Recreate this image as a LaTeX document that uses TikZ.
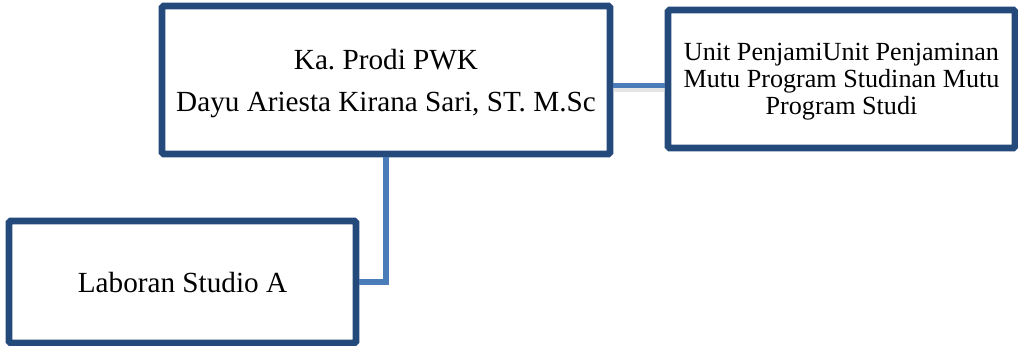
\documentclass[tikz,border=0pt]{standalone}
\usepackage{fontspec}
\setmainfont{Liberation Serif}
\usepackage{tikz}
\usetikzlibrary{calc,positioning}
\definecolor{cBox}{RGB}{36,74,124}
\definecolor{cLink}{RGB}{74,124,186}
\frenchspacing

\begin{document}
\begin{tikzpicture}[x=0.75pt,y=-0.75pt,
    unitbox/.style={draw=cBox,line width=4.9pt,rounded corners=1.2pt,fill=white,align=center,inner sep=0pt,text depth=0pt},
    link/.style={cLink,line width=3.8pt},
    linkshadow/.style={black!20,line width=4pt,opacity=0.5}]
  \useasboundingbox (0,0) rectangle (1018,346);
  % boxes
  \node[unitbox,minimum width=336pt,minimum height=111pt,font=\fontsize{21.9}{31.5}\selectfont]
    (kaprodi) at (386,80) {Ka.\ Prodi PWK\\Dayu Ariesta Kirana Sari, ST. M.Sc};
  \node[unitbox,minimum width=260.25pt,minimum height=103.5pt,font=\fontsize{19.6}{20.5}\selectfont]
    (upm) at (841.5,79) {Unit PenjamiUnit Penjaminan\\Mutu Program Studinan Mutu\\Program Studi};
  \node[unitbox,minimum width=260.25pt,minimum height=91.5pt,font=\fontsize{21.9}{26}\selectfont]
    (laboran) at (182.5,282) {Laboran Studio A};
  % connectors
  \draw[linkshadow] ($(kaprodi.east |- 0,85.5)+(0,3.5)$) -- ($(upm.west |- 0,85.5)+(0,3.5)$);
  \draw[link] (kaprodi.east |- 0,85.5) -- (upm.west |- 0,85.5);
  \draw[link] (kaprodi.south) |- (laboran.east);
\end{tikzpicture}
\end{document}
